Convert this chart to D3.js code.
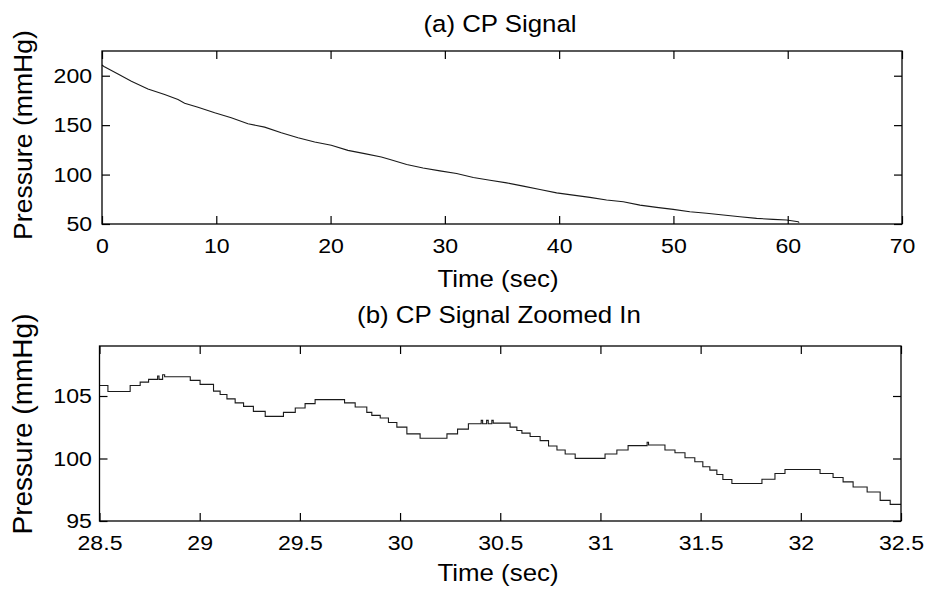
<!DOCTYPE html>
<html>
<head>
<meta charset="utf-8">
<script src="https://cdn.jsdelivr.net/npm/d3@7"></script>
<style>
  html, body { margin: 0; padding: 0; background: #fff; }
  svg { display: block; }
  text { font-family: "Liberation Sans", Arial, Helvetica, sans-serif; fill: #000; }
</style>
</head>
<body>
<svg id="chart" width="929" height="589"></svg>
<script>
// Cuff pressure (CP) recording over the whole deflation
const cpTime = [0.00, 0.17, 1.40, 2.57, 4.02, 5.48, 6.65, 7.23, 8.40, 9.86, 11.31, 12.77,
  14.23, 15.69, 17.15, 18.61, 20.06, 21.52, 22.98, 24.44, 25.20, 26.66, 28.09, 29.57,
  31.03, 32.49, 33.95, 35.41, 36.86, 38.32, 39.78, 41.23, 42.69, 44.15, 45.61, 47.07, 48.53,
  49.98, 51.44, 52.90, 54.36, 55.82, 57.28, 58.73, 59.90, 60.92, 61.00];
const cpPressure = [210.8, 209.4, 201.8, 194.3, 186.6, 180.9, 175.9, 172.2, 168.1, 162.5, 157.5, 151.4,
  148.0, 142.3, 137.3, 132.9, 129.6, 124.5, 121.2, 117.8, 115.2, 110.1, 106.7, 103.7,
  101.1, 97.0, 94.3, 91.6, 88.3, 84.9, 81.5, 79.2, 76.9, 74.2, 72.5, 69.1, 66.8,
  64.8, 62.4, 60.8, 59.1, 57.4, 55.7, 54.7, 54.0, 52.3, 51.3];

// Quantized CP samples between 28.5 s and 32.5 s (start time of each level)
const zoomTime = [28.500, 28.542, 28.653, 28.703, 28.745, 28.790, 28.797, 28.815, 28.825, 28.953,
  29.002, 29.069, 29.102, 29.136, 29.177, 29.219, 29.268, 29.327, 29.418, 29.477,
  29.526, 29.576, 29.723, 29.776, 29.834, 29.859, 29.901, 29.942, 29.984, 30.034,
  30.100, 30.234, 30.287, 30.341, 30.405, 30.412, 30.432, 30.440, 30.458, 30.465,
  30.549, 30.583, 30.608, 30.649, 30.699, 30.741, 30.783, 30.824, 30.874, 31.023,
  31.082, 31.138, 31.233, 31.240, 31.322, 31.372, 31.422, 31.471, 31.511, 31.546,
  31.581, 31.611, 31.656, 31.806, 31.871, 31.921, 32.096, 32.161, 32.211, 32.261,
  32.331, 32.396, 32.446, 32.500];
const zoomPressure = [105.84, 105.36, 105.84, 106.11, 106.33, 106.60, 106.33, 106.70, 106.54, 106.25,
  105.93, 105.39, 105.12, 104.77, 104.45, 104.17, 103.77, 103.37, 103.69, 104.04,
  104.39, 104.71, 104.45, 104.12, 103.69, 103.45, 103.24, 102.88, 102.51, 101.97,
  101.62, 101.97, 102.35, 102.78, 103.05, 102.78, 103.05, 102.78, 103.05, 102.83,
  102.51, 102.24, 102.03, 101.76, 101.43, 101.00, 100.68, 100.36, 100.01, 100.36,
  100.68, 101.03, 101.30, 101.08, 100.68, 100.46, 100.06, 99.74, 99.34, 99.07,
  98.72, 98.32, 98.00, 98.34, 98.80, 99.12, 98.80, 98.48, 98.13, 97.72,
  97.32, 96.65, 96.33, 96.33];

const ticksA_x = [0, 10, 20, 30, 40, 50, 60, 70];
const ticksA_y = [50, 100, 150, 200];
const ticksB_x = [28.5, 29, 29.5, 30, 30.5, 31, 31.5, 32, 32.5];
const ticksB_y = [95, 100, 105];

const titleA = "(a) CP Signal";
const titleB = "(b) CP Signal Zoomed In";
const xLabel = "Time (sec)";
const yLabel = "Pressure (mmHg)";

const svg = d3.select("#chart");
const STRETCH = 1.1;   // glyphs are drawn slightly wide
const TICK = 8;

function label(g, x, y, str, size, rotate) {
  return g.append("text")
    .attr("transform", `translate(${x},${y})` + (rotate ? " rotate(-90)" : ` scale(${STRETCH},1)`))
    .attr("text-anchor", "middle")
    .style("font-size", size + "px")
    .text(str);
}

function panel(cfg) {
  const g = svg.append("g");
  const x = d3.scaleLinear().domain(cfg.xDomain).range([cfg.left, cfg.right]);
  const y = d3.scaleLinear().domain(cfg.yDomain).range([cfg.bottom, cfg.top]);

  // signal trace
  const line = d3.line().x(d => x(d[0])).y(d => y(d[1])).curve(cfg.curve);
  g.append("path")
    .datum(cfg.data)
    .attr("fill", "none")
    .attr("stroke", "#1a1a1a")
    .attr("stroke-width", 1.1)
    .attr("d", line);

  // inward ticks on all four sides, labels on bottom and left only
  const fmt = d => String(d);
  const bottom = g.append("g").attr("transform", `translate(0,${cfg.bottom})`)
    .call(d3.axisBottom(x).tickValues(cfg.xTicks).tickFormat(fmt).tickSizeInner(-TICK).tickSizeOuter(0).tickPadding(14));
  const top = g.append("g").attr("transform", `translate(0,${cfg.top})`)
    .call(d3.axisTop(x).tickValues(cfg.xTicks).tickFormat("").tickSizeInner(-TICK).tickSizeOuter(0));
  const left = g.append("g").attr("transform", `translate(${cfg.left},0)`)
    .call(d3.axisLeft(y).tickValues(cfg.yTicks).tickFormat(fmt).tickSizeInner(-TICK).tickSizeOuter(0).tickPadding(cfg.yPad));
  const right = g.append("g").attr("transform", `translate(${cfg.right},0)`)
    .call(d3.axisRight(y).tickValues(cfg.yTicks).tickFormat("").tickSizeInner(-TICK).tickSizeOuter(0));

  [bottom, top, left, right].forEach(a => {
    a.select(".domain").remove();
    a.selectAll("line").attr("stroke", "#000").attr("stroke-width", 1.2);
    a.selectAll("text")
      .attr("fill", "#000")
      .style("font-size", "21px")
      .style("font-family", '"Liberation Sans", Arial, Helvetica, sans-serif');
  });
  bottom.selectAll("text").attr("transform", `scale(${STRETCH},1)`);
  left.selectAll("text").attr("transform", `scale(${STRETCH},1)`);

  // box
  g.append("rect")
    .attr("x", cfg.left).attr("y", cfg.top)
    .attr("width", cfg.right - cfg.left).attr("height", cfg.bottom - cfg.top)
    .attr("fill", "none").attr("stroke", "#000").attr("stroke-width", 1.3);

  label(g, cfg.titleX, cfg.titleY, cfg.title, 23.5, false);
  label(g, cfg.xLabelX, cfg.xLabelY, xLabel, 23.5, false);
  label(g, cfg.yLabelX, cfg.yLabelY, yLabel, cfg.yLabelSize, true);
}

const fullData = cpTime.map((t, i) => [t, cpPressure[i]]);
const zoomData = zoomTime.map((t, i) => [t, zoomPressure[i]]);

panel({
  data: fullData, curve: d3.curveLinear,
  xDomain: [0, 70], yDomain: [50, 225],
  left: 102, right: 902, top: 51, bottom: 224,
  xTicks: ticksA_x, yTicks: ticksA_y, yPad: 9,
  title: titleA, titleX: 500, titleY: 32,
  xLabelX: 498, xLabelY: 287,
  yLabelX: 32, yLabelY: 135, yLabelSize: 26.6
});

panel({
  data: zoomData, curve: d3.curveStepAfter,
  xDomain: [28.5, 32.5], yDomain: [95, 109],
  left: 99.5, right: 901, top: 346, bottom: 521,
  xTicks: ticksB_x, yTicks: ticksB_y, yPad: 7,
  title: titleB, titleX: 499, titleY: 323,
  xLabelX: 498, xLabelY: 581,
  yLabelX: 32, yLabelY: 424, yLabelSize: 28
});
</script>
</body>
</html>
